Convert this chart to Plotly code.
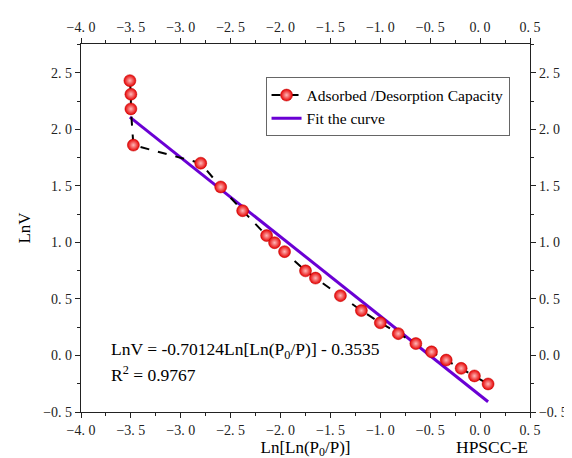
import plotly.graph_objects as go

# data
ln_ln_p0p = [-3.51, -3.50, -3.50, -3.475, -2.80, -2.60, -2.38, -2.14, -2.06, -1.96,
             -1.75, -1.65, -1.40, -1.19, -1.00, -0.82, -0.644, -0.487, -0.34, -0.19,
             -0.057, 0.080]
ln_v = [2.43, 2.31, 2.18, 1.86, 1.70, 1.49, 1.28, 1.06, 0.997, 0.918,
        0.748, 0.684, 0.529, 0.397, 0.289, 0.193, 0.105, 0.032, -0.041, -0.114,
        -0.181, -0.252]
fit_slope = -0.70124
fit_intercept = -0.3535
fit_x = [min(ln_ln_p0p), max(ln_ln_p0p)]
fit_y = [fit_slope * v + fit_intercept for v in fit_x]

x_ticks = [-4.0, -3.5, -3.0, -2.5, -2.0, -1.5, -1.0, -0.5, 0.0, 0.5]
x_tick_text = ["\u22124. 0", "\u22123. 5", "\u22123. 0", "\u22122. 5", "\u22122. 0",
               "\u22121. 5", "\u22121. 0", "\u22120. 5", "0. 0", "0. 5"]
y_ticks = [-0.5, 0.0, 0.5, 1.0, 1.5, 2.0, 2.5]
y_tick_text = ["\u22120. 5", "0. 0", "0. 5", "1. 0", "1. 5", "2. 0", "2. 5"]

serif = "Liberation Serif"
tickfont = dict(family=serif, size=14, color="#222")
minor = dict(dtick=0.25, ticks="outside", ticklen=3, tickwidth=1, tickcolor="#222")

axis_common = dict(showgrid=False, zeroline=False, showline=True, linecolor="#222",
                   linewidth=1.2, ticks="outside", ticklen=5, tickwidth=1,
                   tickcolor="#222", tickfont=tickfont, minor=minor)

fig = go.Figure()
fig.add_trace(go.Scatter(
    x=fit_x, y=fit_y, mode="lines", name="Fit the curve",
    line=dict(color="#6a00d4", width=3), legendrank=2))
fig.add_trace(go.Scatter(
    x=ln_ln_p0p, y=ln_v, mode="lines+markers", name="Adsorbed /Desorption Capacity",
    line=dict(color="black", width=2, dash="dash"),
    marker=dict(color="#e60000", size=12, line=dict(width=0.5, color="#c00000"),
                gradient=dict(type="radial", color="#ffb8b8")),
    legendrank=1))
# invisible trace to anchor the mirrored axes
fig.add_trace(go.Scatter(
    x=ln_ln_p0p, y=ln_v, xaxis="x2", yaxis="y2", mode="markers",
    marker=dict(opacity=0), showlegend=False, hoverinfo="skip"))

xr = [-4.0, 0.5]
yr = [-0.5, 2.754]
title_font = dict(family=serif, size=17, color="black")
fig.update_layout(
    width=572, height=458,
    margin=dict(l=73, r=39, t=33, b=54),
    plot_bgcolor="white", paper_bgcolor="white",
    showlegend=True,
    legend=dict(x=0.411, y=0.909, xanchor="left", yanchor="top",
                bgcolor="white", bordercolor="#666", borderwidth=1,
                font=dict(family=serif, size=15.5, color="black"),
                tracegroupgap=0, itemwidth=30),
    xaxis=dict(range=xr, tickvals=x_ticks, ticktext=x_tick_text,
               title=dict(text="Ln[Ln(P<sub>0</sub>/P)]", font=title_font, standoff=0),
               automargin=False, **axis_common),
    yaxis=dict(range=yr, tickvals=y_ticks, ticktext=y_tick_text,
               title=dict(text="LnV", font=title_font, standoff=8),
               **axis_common),
    xaxis2=dict(range=xr, overlaying="x", side="top", anchor="y2",
                tickvals=x_ticks, ticktext=x_tick_text, **axis_common),
    yaxis2=dict(range=yr, overlaying="y", side="right", anchor="x2",
                tickvals=y_ticks, ticktext=y_tick_text, **axis_common),
    annotations=[
        dict(text="LnV = -0.70124Ln[Ln(P<sub>0</sub>/P)] - 0.3535", xref="paper", yref="paper",
             x=0.063, y=0.168, xanchor="left", yanchor="middle", showarrow=False,
             font=dict(family=serif, size=17.5, color="black")),
        dict(text="R<sup>2</sup> = 0.9767", xref="paper", yref="paper",
             x=0.063, y=0.103, xanchor="left", yanchor="middle", showarrow=False,
             font=dict(family=serif, size=17.5, color="black")),
        dict(text="HPSCC-E", xref="paper", yref="paper",
             x=1.0, y=-0.094, xanchor="right", yanchor="middle", showarrow=False,
             font=dict(family=serif, size=17.5, color="black")),
    ],
)

fig.write_html("out.html")
